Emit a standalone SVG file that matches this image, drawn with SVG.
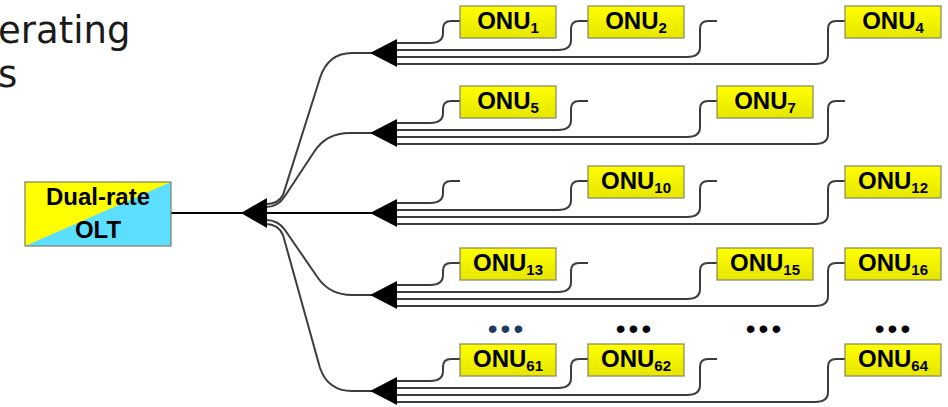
<svg xmlns="http://www.w3.org/2000/svg" width="948" height="407" viewBox="0 0 948 407">
<style>
.fiber{fill:none;stroke:#3c3c3c;stroke-width:2}
.trunk{fill:none;stroke:#000;stroke-width:2}
.spl{fill:#000}
.onu rect{fill:url(#yel);stroke:#85855a;stroke-width:1.2}
.onu text{font-family:"Liberation Sans",Arial,sans-serif;font-weight:bold;font-size:24px;fill:#000;text-anchor:middle}
.onu tspan{font-size:15px}
.olt text{font-family:"Liberation Sans",Arial,sans-serif;font-weight:bold;font-size:24px;fill:#000;text-anchor:middle}
.dots{font-family:"Liberation Sans",Arial,sans-serif;font-size:28px;letter-spacing:3px;text-anchor:middle}
.title{font-family:"DejaVu Sans",Verdana,sans-serif;font-size:37px;fill:#1a1a1a}
</style>
<defs>
<linearGradient id="yel" x1="0" y1="0" x2="0" y2="1">
<stop offset="0" stop-color="#FFFF00"/>
<stop offset="1" stop-color="#E6E600"/>
</linearGradient>
</defs>
<g id="title">
<text class="title" x="-2" y="43">erating</text>
<text class="title" x="-2" y="87">s</text>
</g>
<g id="connectors">
<path class="trunk" d="M171,213 H372"/>
<path class="fiber" d="M266,204 Q278,204 283,195 L320,78 Q328,53 352,53 H380"/>
<path class="fiber" d="M266,207 Q278,207 285,196 L314,152 Q326,133 350,133 H380"/>
<path class="fiber" d="M266,220 Q278,220 285,230 L318,278 Q330,295 352,295 H380"/>
<path class="fiber" d="M266,224 Q278,224 283,235 L320,368 Q328,391 352,391 H380"/>
<path class="fiber" d="M397,43 H430 Q443,43 443,33 V29 Q443,21 451,21 H460"/>
<path class="fiber" d="M397,50 H558 Q571,50 571,40 V29 Q571,21 579,21 H588"/>
<path class="fiber" d="M397,57 H687 Q700,57 700,47 V29 Q700,21 708,21 H717"/>
<path class="fiber" d="M397,64 H815 Q828,64 828,54 V29 Q828,21 836,21 H845"/>
<path class="fiber" d="M397,123 H430 Q443,123 443,113 V109 Q443,101 451,101 H460"/>
<path class="fiber" d="M397,130 H558 Q571,130 571,120 V109 Q571,101 579,101 H588"/>
<path class="fiber" d="M397,137 H687 Q700,137 700,127 V109 Q700,101 708,101 H717"/>
<path class="fiber" d="M397,144 H815 Q828,144 828,134 V109 Q828,101 836,101 H845"/>
<path class="fiber" d="M397,203 H430 Q443,203 443,193 V189 Q443,181 451,181 H460"/>
<path class="fiber" d="M397,210 H558 Q571,210 571,200 V189 Q571,181 579,181 H588"/>
<path class="fiber" d="M397,217 H687 Q700,217 700,207 V189 Q700,181 708,181 H717"/>
<path class="fiber" d="M397,224 H815 Q828,224 828,214 V189 Q828,181 836,181 H845"/>
<path class="fiber" d="M397,285 H430 Q443,285 443,275 V271 Q443,263 451,263 H460"/>
<path class="fiber" d="M397,292 H558 Q571,292 571,282 V271 Q571,263 579,263 H588"/>
<path class="fiber" d="M397,299 H687 Q700,299 700,289 V271 Q700,263 708,263 H717"/>
<path class="fiber" d="M397,306 H815 Q828,306 828,296 V271 Q828,263 836,263 H845"/>
<path class="fiber" d="M397,381 H430 Q443,381 443,371 V367 Q443,359 451,359 H460"/>
<path class="fiber" d="M397,388 H558 Q571,388 571,378 V367 Q571,359 579,359 H588"/>
<path class="fiber" d="M397,395 H687 Q700,395 700,385 V367 Q700,359 708,359 H717"/>
<path class="fiber" d="M397,402 H815 Q828,402 828,392 V367 Q828,359 836,359 H845"/>
</g>
<g id="olt" class="olt">
<rect x="25" y="182" width="146" height="64" fill="#5CDFFF"/>
<polygon points="25,182 171,182 25,246" fill="#FFFF00"/>
<rect x="25" y="182" width="146" height="64" fill="none" stroke="#7f7f60" stroke-width="1.2"/>
<text x="98" y="205">Dual-rate</text>
<text x="98" y="238">OLT</text>
</g>
<g id="splitter-main"><polygon class="spl" points="241,213 267,198 267,228"/></g>
<g id="splitter-1"><polygon class="spl" points="370,53 397,39 397,67"/></g>
<g id="splitter-2"><polygon class="spl" points="370,133 397,119 397,147"/></g>
<g id="splitter-3"><polygon class="spl" points="370,213 397,199 397,227"/></g>
<g id="splitter-4"><polygon class="spl" points="370,295 397,281 397,309"/></g>
<g id="splitter-5"><polygon class="spl" points="370,391 397,377 397,405"/></g>
<g id="onu1" class="onu"><rect x="460" y="6" width="96" height="32"/><text x="508" y="29">ONU<tspan dy="4">1</tspan></text></g>
<g id="onu2" class="onu"><rect x="588" y="6" width="96" height="32"/><text x="636" y="29">ONU<tspan dy="4">2</tspan></text></g>
<g id="onu4" class="onu"><rect x="845" y="6" width="96" height="32"/><text x="893" y="29">ONU<tspan dy="4">4</tspan></text></g>
<g id="onu5" class="onu"><rect x="460" y="86" width="96" height="32"/><text x="508" y="109">ONU<tspan dy="4">5</tspan></text></g>
<g id="onu7" class="onu"><rect x="717" y="86" width="96" height="32"/><text x="765" y="109">ONU<tspan dy="4">7</tspan></text></g>
<g id="onu10" class="onu"><rect x="588" y="166" width="96" height="32"/><text x="636" y="189">ONU<tspan dy="4">10</tspan></text></g>
<g id="onu12" class="onu"><rect x="845" y="166" width="96" height="32"/><text x="893" y="189">ONU<tspan dy="4">12</tspan></text></g>
<g id="onu13" class="onu"><rect x="460" y="248" width="96" height="32"/><text x="508" y="271">ONU<tspan dy="4">13</tspan></text></g>
<g id="onu15" class="onu"><rect x="717" y="248" width="96" height="32"/><text x="765" y="271">ONU<tspan dy="4">15</tspan></text></g>
<g id="onu16" class="onu"><rect x="845" y="248" width="96" height="32"/><text x="893" y="271">ONU<tspan dy="4">16</tspan></text></g>
<g id="onu61" class="onu"><rect x="460" y="344" width="96" height="32"/><text x="508" y="367">ONU<tspan dy="4">61</tspan></text></g>
<g id="onu62" class="onu"><rect x="588" y="344" width="96" height="32"/><text x="636" y="367">ONU<tspan dy="4">62</tspan></text></g>
<g id="onu64" class="onu"><rect x="845" y="344" width="96" height="32"/><text x="893" y="367">ONU<tspan dy="4">64</tspan></text></g>
<g id="ellipses">
<text class="dots" x="507" y="338" fill="#1F3A5F">•••</text>
<text class="dots" x="635" y="338" fill="#000">•••</text>
<text class="dots" x="765" y="338" fill="#000">•••</text>
<text class="dots" x="894" y="338" fill="#000">•••</text>
</g>
</svg>
